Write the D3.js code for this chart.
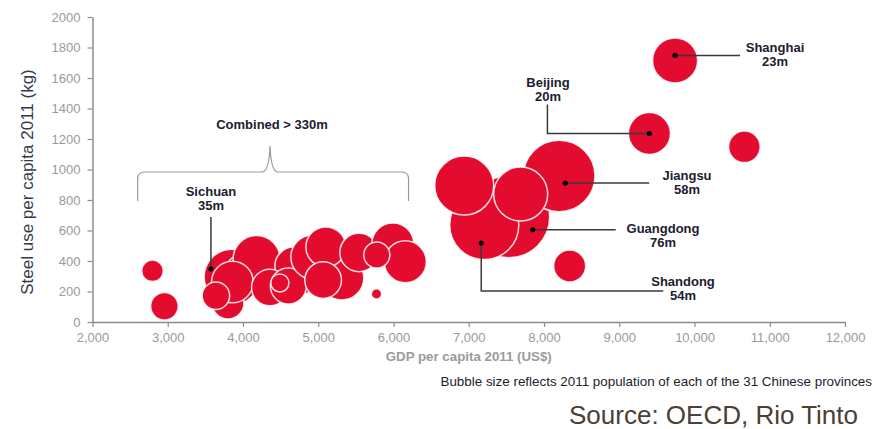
<!DOCTYPE html>
<html>
<head>
<meta charset="utf-8">
<script src="https://cdn.jsdelivr.net/npm/d3@7/dist/d3.min.js"></script>
<style>
  html, body { margin: 0; padding: 0; background: #fff; }
  svg { display: block; font-family: "Liberation Sans", Arial, sans-serif; }
</style>
</head>
<body>
<svg id="chart" width="882" height="429"></svg>
<script>
// GDP per capita 2011 (US$), steel use per capita 2011 (kg) and population (millions)
// for the 31 provinces, listed in drawing order (back to front).
const gdp   = [3853, 4000, 4181, 3800, 3859, 3640, 4740, 4676, 4357, 4603, 4490,
               4928, 5313, 5101, 5065, 5542, 5991, 6157, 5778, 5774, 2797, 2956,
               7531, 7206, 8202, 6940, 7690, 8341, 10663, 9401, 9742];
const steel = [295, 330, 413, 125, 262, 172, 280, 367, 226, 236, 256,
               426, 289, 492, 275, 456, 511, 395, 439, 184, 336, 103,
               690, 636, 957, 895, 839, 367, 1149, 1236, 1715];
const pop   = [35, 14, 25, 11.6, 19.6, 8.5, 12, 16.3, 15.2, 14.7, 3.7,
               21.9, 21.9, 18.1, 15.2, 16.7, 20, 20, 7.7, 1.2, 5.3, 8.6,
               76, 54, 58, 39.4, 33, 11.6, 11.3, 20, 23];

// Axis ticks
const xTicks = [2000, 3000, 4000, 5000, 6000, 7000, 8000, 9000, 10000, 11000, 12000];
const yTicks = [0, 200, 400, 600, 800, 1000, 1200, 1400, 1600, 1800, 2000];

// Called-out provinces: index into the arrays above, name and population label
const callouts = [
  { i: 30, name: "Shanghai",  sub: "23m" },
  { i: 29, name: "Beijing",   sub: "20m" },
  { i: 24, name: "Jiangsu",   sub: "58m" },
  { i: 22, name: "Guangdong", sub: "76m" },
  { i: 23, name: "Shandong",  sub: "54m" },
  { i: 0,  name: "Sichuan",   sub: "35m" }
];

const svg = d3.select("#chart");

const x = d3.scaleLinear().domain([2000, 12000]).range([92.5, 845]);
const y = d3.scaleLinear().domain([0, 2000]).range([322, 17]);
const r = d3.scaleSqrt().domain([0, 100]).range([0, 47]);

const axisColor = "#8c8c8c";
const tickText = "#9a9a9a";
const labelInk = "#1c2030";

// ---- axes ----
const gx = svg.append("g")
  .attr("transform", `translate(0,${y(0)})`)
  .call(d3.axisBottom(x).tickValues(xTicks).tickFormat(d3.format(","))
        .tickSize(5).tickSizeOuter(0).tickPadding(5.5));
const gy = svg.append("g")
  .attr("transform", `translate(${x(2000)},0)`)
  .call(d3.axisLeft(y).tickValues(yTicks).tickFormat(d => d)
        .tickSize(5).tickSizeOuter(0).tickPadding(7));

[gx, gy].forEach(g => {
  g.select(".domain").attr("stroke", axisColor).attr("stroke-width", 1.5);
  g.selectAll(".tick line").attr("stroke", axisColor).attr("stroke-width", 1.2);
  g.selectAll(".tick text").attr("fill", tickText).attr("font-size", 13)
    .attr("font-family", "'Liberation Sans', Arial, sans-serif");
});

// axis titles
svg.append("text")
  .attr("transform", `translate(33,182) rotate(-90)`)
  .attr("text-anchor", "middle")
  .attr("font-size", 17).attr("fill", "#343a4e")
  .text("Steel use per capita 2011 (kg)");

svg.append("text")
  .attr("x", (x(2000) + x(12000)) / 2).attr("y", 361)
  .attr("text-anchor", "middle")
  .attr("font-size", 13.3).attr("font-weight", "bold").attr("fill", "#9b9b9b")
  .text("GDP per capita 2011 (US$)");

// ---- bubbles ----
const data = gdp.map((g, i) => ({ gdp: g, steel: steel[i], pop: pop[i] }));

svg.append("g")
  .selectAll("circle")
  .data(data)
  .join("circle")
  .attr("cx", d => x(d.gdp))
  .attr("cy", d => y(d.steel))
  .attr("r", d => r(d.pop))
  .attr("fill", "#e30b2e")
  .attr("stroke", "#fff")
  .attr("stroke-opacity", 0.85)
  .attr("stroke-width", 1.5);

// ---- call-outs ----
// dot offset from the bubble centre, leader path (relative to the dot) and label anchor
const calloutLayout = {
  Shanghai:  { dot: [0, -5],   path: [[0, 0], [65, 0]],                 label: [775, 52] },
  Beijing:   { dot: [0, 0],    path: [[0, 0], [-102, 0], [-102, -29]],  label: [548, 87] },
  Jiangsu:   { dot: [6, 7],    path: [[0, 0], [84, 0]],                 label: [687, 180] },
  Guangdong: { dot: [24, 13],  path: [[0, 0], [83, 0]],                 label: [663, 233] },
  Shandong:  { dot: [-3, 18],  path: [[0, 0], [0, 48], [182, 48]],      label: [683, 286] },
  Sichuan:   { dot: [-21, -8], path: [[0, 0], [0, -52]],                label: [211, 196] }
};

const cg = svg.append("g");
callouts.forEach(c => {
  const L = calloutLayout[c.name];
  const d = data[c.i];
  const px = x(d.gdp) + L.dot[0];
  const py = y(d.steel) + L.dot[1];
  cg.append("path")
    .attr("d", d3.line()(L.path.map(p => [px + p[0], py + p[1]])))
    .attr("fill", "none").attr("stroke", "#3a3a3a").attr("stroke-width", 1.5);
  cg.append("circle").attr("cx", px).attr("cy", py).attr("r", 2.6).attr("fill", "#000");
  const t = cg.append("text")
    .attr("x", L.label[0]).attr("y", L.label[1])
    .attr("text-anchor", "middle").attr("font-size", 13).attr("font-weight", "bold")
    .attr("fill", labelInk);
  t.append("tspan").attr("x", L.label[0]).text(c.name);
  t.append("tspan").attr("x", L.label[0]).attr("dy", 13.5).text(c.sub);
});

// brace over the low-income group
const braceY = 172, braceL = x(2600), braceR = x(6200), braceMid = 270;
const brace = d3.path();
brace.moveTo(braceL, 201);
brace.lineTo(braceL, braceY + 7);
brace.quadraticCurveTo(braceL, braceY, braceL + 7, braceY);
brace.lineTo(braceMid - 8, braceY);
brace.quadraticCurveTo(braceMid - 1, braceY, braceMid, braceY - 26);
brace.quadraticCurveTo(braceMid + 1, braceY, braceMid + 8, braceY);
brace.lineTo(braceR - 7, braceY);
brace.quadraticCurveTo(braceR, braceY, braceR, braceY + 7);
brace.lineTo(braceR, 201);
svg.append("path").attr("d", brace.toString())
  .attr("fill", "none").attr("stroke", "#9a9a9a").attr("stroke-width", 1.2);

svg.append("text")
  .attr("x", 272).attr("y", 129).attr("text-anchor", "middle")
  .attr("font-size", 13).attr("font-weight", "bold").attr("fill", labelInk)
  .text("Combined > 330m");

// footnotes
svg.append("text")
  .attr("x", 872).attr("y", 386).attr("text-anchor", "end")
  .attr("font-size", 13.4).attr("fill", "#1e2230")
  .text("Bubble size reflects 2011 population of each of the 31 Chinese provinces");

svg.append("text")
  .attr("x", 858).attr("y", 424).attr("text-anchor", "end")
  .attr("font-size", 26).attr("fill", "#4a4036")
  .text("Source: OECD, Rio Tinto");
</script>
</body>
</html>
